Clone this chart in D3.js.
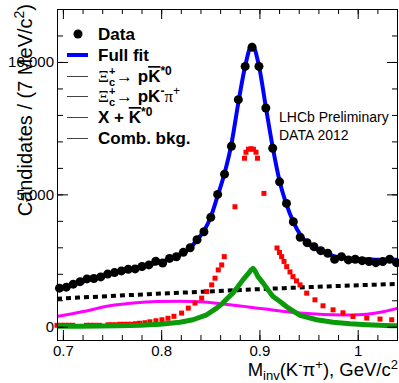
<!DOCTYPE html>
<html>
<head>
<meta charset="utf-8">
<script src="https://cdn.jsdelivr.net/npm/d3@7"></script>
<style>
  body { margin: 0; background: #fff; }
  svg { display: block; font-family: "Liberation Sans", Arial, Helvetica, sans-serif; }
</style>
</head>
<body>
<div id="app"></div>
<script>
// bin centres (GeV/c^2), 7 MeV bins
const binMass = [0.6965,0.7035,0.7105,0.7175,0.7245,0.7315,0.7385,0.7455,0.7525,0.7595,
  0.7665,0.7735,0.7805,0.7875,0.7945,0.8015,0.8085,0.8155,0.8225,0.8295,
  0.8365,0.8435,0.8505,0.8575,0.8645,0.8715,0.8785,0.8855,0.8925,0.8995,
  0.9065,0.9135,0.9205,0.9275,0.9345,0.9415,0.9485,0.9555,0.9625,0.9695,
  0.9765,0.9835,0.9905,0.9975,1.0045,1.0115,1.0185,1.0255,1.0325,1.0395]

const dataCounts = [1458,1495,1608,1702,1808,1823,1883,1989,2045,2109,
  2173,2185,2275,2335,2478,2407,2580,2644,2810,2983,
  3288,3590,4132,4998,5763,6817,8576,9831,10557,9831,
  8260,6742,5473,4659,3966,3379,3175,3024,2874,2776,
  2550,2648,2524,2550,2497,2460,2422,2460,2550,2422]

const fitMass = [0.694,0.6965,0.7035,0.7105,0.7175,0.7245,0.7315,0.7385,0.7455,0.7525,0.7595,
  0.7665,0.7735,0.7805,0.7875,0.7945,0.8015,0.8085,0.8155,0.8225,0.8295,
  0.8365,0.8435,0.8505,0.8575,0.8645,0.8715,0.8785,0.8855,0.8925,0.8995,
  0.9065,0.9135,0.9205,0.9275,0.9345,0.9415,0.9485,0.9555,0.9625,0.9695,
  0.9765,0.9835,0.9905,0.9975,1.0045,1.0115,1.0185,1.0255,1.0325,1.0395,1.041]
const fitCounts = [1420,1470,1520,1590,1670,1750,1830,1900,1970,2040,2100,
  2160,2220,2280,2340,2400,2470,2550,2650,2790,2980,
  3280,3620,4150,4950,5800,6900,8450,9850,10650,9850,
  8300,6780,5500,4620,3960,3480,3170,2980,2850,2750,
  2660,2610,2580,2560,2550,2540,2530,2530,2530,2530,2530]

// Xi_c -> p K*0 component (red)
const sigMass = [0.694,0.698,0.702,0.706,0.710,0.724,0.728,0.732,0.737,
  0.746,0.750,0.754,0.758,0.762,0.766,0.770,0.774,0.778,0.7835,0.7886,0.7947,
  0.8008,0.8069,0.813,0.8208,0.8276,0.8344,0.8412,0.8463,0.8514,0.8548,0.8581,
  0.8616,0.8642,0.8751,0.8848,0.8863,0.8888,0.8914,0.8939,0.8965,0.898,
  0.9046,0.9179,0.9204,0.9226,0.925,0.9277,0.9311,0.9341,0.9377,0.9413,
  0.9481,0.9565,0.9647,0.9749,0.985,0.9952,1.0092,1.0227,1.0346]
const sigCounts = [56,56,56,56,56,56,56,56,56,
  75,75,75,94,94,94,94,113,132,151,188,226,
  264,320,395,516,704,893,1081,1329,1582,1834,2147,
  2335,2648,4531,6365,6591,6704,6723,6704,6591,6365,
  5036,2975,2806,2648,2467,2271,2071,1894,1732,1582,
  1269,1017,791,640,527,388,328,290,264]

// Xi_c -> p K- pi+ component (green)
const nrMass = [0.694,0.7173,0.7377,0.758,0.7784,0.7987,0.8191,0.8323,0.8463,0.8565,
  0.8629,0.868,0.8731,0.8782,0.8832,0.8883,0.8914,0.8934,0.8955,0.8985,
  0.9036,0.9087,0.9138,0.9209,0.9277,0.9341,0.9413,0.9583,0.9749,0.9922,1.0092,1.0346,1.041]
const nrCounts = [19,19,30,38,56,94,169,264,452,704,
  904,1092,1280,1518,1770,1996,2147,2203,2109,1894,
  1657,1393,1141,953,753,603,433,264,169,113,75,38,38]

// X + K*0 component (magenta)
const xMass = [0.694,0.7207,0.7478,0.7716,0.7954,0.8191,0.8395,0.87,0.9036,0.9413,0.9749,0.9922,1.0092,1.0258,1.041]
const xCounts = [388,576,791,893,953,968,942,829,678,516,452,441,471,565,704]

// combinatorial background (black dotted)
const combMass = [0.694,0.77,0.84,0.9,0.96,1.041]
const combCounts = [1060,1200,1320,1420,1510,1620]

const xMajor = [0.7, 0.8, 0.9, 1.0]
const yMajor = [0, 5000, 10000]

const width = 399, height = 383

const x = d3.scaleLinear().domain([0.694, 1.041]).range([57, 398])
const y = d3.scaleLinear().domain([-500, 12000]).range([340, 9])

const svg = d3.select('#app').append('svg')
  .attr('width', width).attr('height', height)

const line = (curve) => d3.line().x(d => x(d[0])).y(d => y(d[1])).curve(curve)

// combinatorial
svg.append('path')
  .datum(d3.zip(combMass, combCounts))
  .attr('d', line(d3.curveMonotoneX))
  .attr('fill', 'none').attr('stroke', '#000')
  .attr('stroke-width', 4).attr('stroke-dasharray', '5,4')

// X + K*0
svg.append('path')
  .datum(d3.zip(xMass, xCounts))
  .attr('d', line(d3.curveMonotoneX))
  .attr('fill', 'none').attr('stroke', '#ff00ff').attr('stroke-width', 3)

// red signal as square markers
svg.append('g').selectAll('rect')
  .data(d3.zip(sigMass, sigCounts))
  .enter().append('rect')
  .attr('x', d => x(d[0]) - 2.5).attr('y', d => y(d[1]) - 2.5)
  .attr('width', 5).attr('height', 5)
  .attr('fill', '#ff0000')

// green non-resonant
svg.append('path')
  .datum(d3.zip(nrMass, nrCounts))
  .attr('d', line(d3.curveLinear))
  .attr('fill', 'none').attr('stroke', '#0a9a0a').attr('stroke-width', 5)
  .attr('stroke-linejoin', 'round')

// full fit
svg.append('path')
  .datum(d3.zip(fitMass, fitCounts))
  .attr('d', line(d3.curveMonotoneX))
  .attr('fill', 'none').attr('stroke', '#0000ff').attr('stroke-width', 4)

// data
svg.append('g').selectAll('circle')
  .data(d3.zip(binMass, dataCounts))
  .enter().append('circle')
  .attr('cx', d => x(d[0])).attr('cy', d => y(d[1]))
  .attr('r', 4.5).attr('fill', '#000')

// axes
const xMinor = d3.range(0.70, 1.045, 0.02)
const yMinor = d3.range(0, 12000, 1000)

function axisStyle(g) {
  g.select('.domain').remove()
  g.attr('font-family', null).attr('font-size', null)
  g.selectAll('line').attr('stroke', '#000')
  g.selectAll('text').attr('fill', '#000').style('font-size', '15px')
}

svg.append('g').attr('transform', 'translate(0,340)')
  .call(d3.axisBottom(x).tickValues(xMinor).tickSize(-5).tickFormat('')).call(axisStyle)
svg.append('g').attr('transform', 'translate(0,340)')
  .call(d3.axisBottom(x).tickValues(xMajor).tickSize(-10).tickPadding(5)
    .tickFormat(d => d === 1 ? '1' : d3.format('.1f')(d))).call(axisStyle)
svg.append('g').attr('transform', 'translate(0,9)')
  .call(d3.axisTop(x).tickValues(xMinor).tickSize(-5).tickFormat('')).call(axisStyle)
svg.append('g').attr('transform', 'translate(0,9)')
  .call(d3.axisTop(x).tickValues(xMajor).tickSize(-10).tickFormat('')).call(axisStyle)

svg.append('g').attr('transform', 'translate(57,0)')
  .call(d3.axisLeft(y).tickValues(yMinor).tickSize(-6).tickFormat('')).call(axisStyle)
svg.append('g').attr('transform', 'translate(57,0)')
  .call(d3.axisLeft(y).tickValues(yMajor).tickSize(-11).tickPadding(3)).call(axisStyle)
svg.append('g').attr('transform', 'translate(398,0)')
  .call(d3.axisRight(y).tickValues(yMinor).tickSize(-6).tickFormat('')).call(axisStyle)
svg.append('g').attr('transform', 'translate(398,0)')
  .call(d3.axisRight(y).tickValues(yMajor).tickSize(-11).tickFormat('')).call(axisStyle)

svg.append('rect')
  .attr('x', 57.5).attr('y', 9.5).attr('width', 340).attr('height', 331)
  .attr('fill', 'none').attr('stroke', '#000')

// axis titles
const yTitle = svg.append('text')
  .attr('transform', 'translate(32,4) rotate(-90)')
  .attr('text-anchor', 'end').style('font-size', '20px')
yTitle.append('tspan').text('Candidates / (7 MeV/c')
yTitle.append('tspan').attr('dy', -8).style('font-size', '14px').text('2')
yTitle.append('tspan').attr('dy', 8).text(')')

const xTitle = svg.append('text')
  .attr('x', 398).attr('y', 376)
  .attr('text-anchor', 'end').style('font-size', '18.5px')
xTitle.append('tspan').text('M')
xTitle.append('tspan').attr('dy', 4).style('font-size', '13px').text('inv')
xTitle.append('tspan').attr('dy', -4).text('(K')
xTitle.append('tspan').attr('dy', -7).style('font-size', '13px').text('-')
xTitle.append('tspan').attr('dy', 7).text('π')
xTitle.append('tspan').attr('dy', -7).style('font-size', '13px').text('+')
xTitle.append('tspan').attr('dy', 7).text('), GeV/c')
xTitle.append('tspan').attr('dy', -7).style('font-size', '13px').text('2')

// LHCb label
svg.append('text').attr('x', 279).attr('y', 122).style('font-size', '14px').text('LHCb Preliminary')
svg.append('text').attr('x', 279).attr('y', 140).style('font-size', '14px').text('DATA 2012')

// legend
const lx = 98
const legBase = [40, 61, 82, 102, 123, 144]

svg.append('circle').attr('cx', 78).attr('cy', legBase[0] - 6).attr('r', 4.5).attr('fill', '#000')
svg.append('line').attr('x1', 67).attr('x2', 88).attr('y1', legBase[1] - 6).attr('y2', legBase[1] - 6)
  .attr('stroke', '#0000ff').attr('stroke-width', 4)
legBase.slice(2).forEach(b => {
  svg.append('line').attr('x1', 67).attr('x2', 88).attr('y1', b - 5.5).attr('y2', b - 5.5)
    .attr('stroke', '#444').attr('stroke-width', 1)
})

function legText(b) {
  return svg.append('text').attr('x', lx).attr('y', b)
    .style('font-size', '17px').style('font-weight', 'bold')
}
function xiPart(t) {
  t.append('tspan').style('font-weight', 'normal').style('font-family', '"Liberation Serif", serif').text('Ξ')
  t.append('tspan').attr('dy', -7).style('font-size', '11px').text('+')
  t.append('tspan').attr('dx', -6.5).attr('dy', 11).style('font-size', '11px').text('c')
  t.append('tspan').attr('dy', -4).attr('dx', 1).style('font-weight', 'normal').text('→ ')
}

legText(legBase[0]).text('Data')
legText(legBase[1]).text('Full fit')

const t3 = legText(legBase[2])
xiPart(t3)
t3.append('tspan').text('p')
t3.append('tspan').style('text-decoration', 'overline').text('K')
t3.append('tspan').attr('dy', -7).style('font-size', '12px').text('*0')

const t4 = legText(legBase[3])
xiPart(t4)
t4.append('tspan').text('pK')
t4.append('tspan').attr('dy', -7).style('font-size', '12px').text('-')
t4.append('tspan').attr('dy', 7).style('font-weight', 'normal').style('font-family', '"Liberation Serif", serif').text('π')
t4.append('tspan').attr('dy', -7).style('font-size', '12px').style('font-weight', 'normal').text('+')

const t5 = legText(legBase[4])
t5.append('tspan').text('X + ')
t5.append('tspan').style('text-decoration', 'overline').text('K')
t5.append('tspan').attr('dy', -7).style('font-size', '12px').text('*0')

legText(legBase[5]).text('Comb. bkg.')
</script>
</body>
</html>
